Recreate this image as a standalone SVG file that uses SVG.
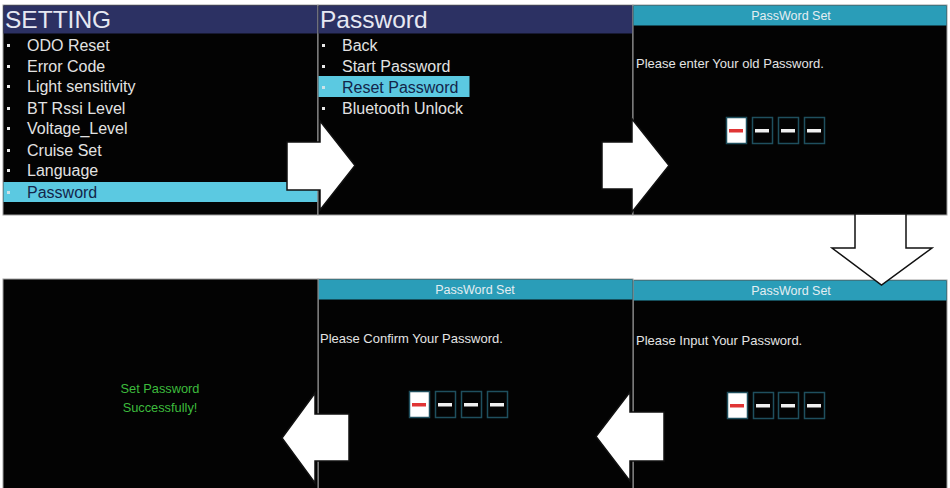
<svg xmlns="http://www.w3.org/2000/svg" width="950" height="488" viewBox="0 0 950 488">
<style>
.scr{fill:#030303;stroke:#a0a0a0;stroke-width:1}
.nav{fill:#2c3163}
.teal{fill:#2a9db8}
.hl{fill:#5bc9e1}
.big{font-family:"Liberation Sans",Arial,sans-serif;font-size:24.5px;fill:#e6e8f2}
.item{font-family:"Liberation Sans",Arial,sans-serif;font-size:16px;fill:#e2e2e2}
.sel{fill:#13254a}
.bul{fill:#e8e8e8}
.hdr{font-family:"Liberation Sans",Arial,sans-serif;font-size:12.5px;fill:#e4eef2;text-anchor:middle}
.msg{font-family:"Liberation Sans",Arial,sans-serif;font-size:13px;fill:#e4e4e4}
.ok{font-family:"Liberation Sans",Arial,sans-serif;font-size:12.8px;fill:#3dbb3d;text-anchor:middle}
.box{fill:#030303;stroke:#1f4f5e;stroke-width:1.5}
.box1{fill:#ffffff;stroke:#1f4f5e;stroke-width:1.5}
.dash{fill:#f0f0f0}
.rdash{fill:#e03535}
.arrow{fill:#ffffff;stroke:#111111;stroke-width:1.5;stroke-linejoin:miter}
</style>
<rect width="950" height="488" fill="#ffffff"/>

<g id="setting">
<rect class="scr" x="3" y="5" width="315" height="210"/>
<rect class="nav" x="3.5" y="5.5" width="314" height="28"/>
<text class="big" x="5" y="28">SETTING</text>
<rect class="hl" x="3.5" y="182" width="314" height="20"/>
<rect class="bul" x="7" y="44" width="3" height="3"/>
<rect class="bul" x="7" y="65" width="3" height="3"/>
<rect class="bul" x="7" y="85" width="3" height="3"/>
<rect class="bul" x="7" y="107" width="3" height="3"/>
<rect class="bul" x="7" y="127" width="3" height="3"/>
<rect class="bul" x="7" y="149" width="3" height="3"/>
<rect class="bul" x="7" y="169" width="3" height="3"/>
<rect class="bul" x="7" y="191" width="3" height="3" fill-opacity="0.8"/>
<text class="item" x="27" y="51">ODO Reset</text>
<text class="item" x="27" y="72">Error Code</text>
<text class="item" x="27" y="92">Light sensitivity</text>
<text class="item" x="27" y="114">BT Rssi Level</text>
<text class="item" x="27" y="134">Voltage_Level</text>
<text class="item" x="27" y="156">Cruise Set</text>
<text class="item" x="27" y="176">Language</text>
<text class="item sel" x="27" y="198">Password</text>
</g>

<g id="password-menu">
<rect class="scr" x="318" y="5" width="315" height="210"/>
<rect class="nav" x="318.5" y="5.5" width="314" height="28"/>
<text class="big" x="320" y="28">Password</text>
<rect class="hl" x="318.5" y="76" width="151" height="21"/>
<rect class="bul" x="322" y="44" width="3" height="3"/>
<rect class="bul" x="322" y="65" width="3" height="3"/>
<rect class="bul" x="322" y="86" width="3" height="3" fill-opacity="0.8"/>
<rect class="bul" x="322" y="107" width="3" height="3"/>
<text class="item" x="342" y="51">Back</text>
<text class="item" x="342" y="72">Start Password</text>
<text class="item sel" x="342" y="93">Reset Password</text>
<text class="item" x="342" y="114">Bluetooth Unlock</text>
</g>

<g id="old-password">
<rect class="scr" x="633" y="5" width="314" height="210"/>
<rect class="teal" x="633.5" y="5.5" width="313" height="20"/>
<text class="hdr" x="791" y="20">PassWord Set</text>
<text class="msg" x="636" y="68">Please enter Your old Password.</text>
<rect class="box1" x="726.5" y="117.5" width="20" height="26"/>
<rect class="rdash" x="729" y="129" width="14" height="3.5"/>
<rect class="box" x="752.5" y="117.5" width="20" height="26"/>
<rect class="dash" x="755" y="129" width="14" height="3.5"/>
<rect class="box" x="778.5" y="117.5" width="20" height="26"/>
<rect class="dash" x="781" y="129" width="14" height="3.5"/>
<rect class="box" x="804.5" y="117.5" width="20" height="26"/>
<rect class="dash" x="807" y="129" width="14" height="3.5"/>
</g>

<g id="input-password">
<rect class="scr" x="633" y="280" width="314" height="210"/>
<rect class="teal" x="633.5" y="280.5" width="313" height="20"/>
<text class="hdr" x="791" y="295">PassWord Set</text>
<text class="msg" x="636" y="345">Please Input Your Password.</text>
<rect class="box1" x="727.5" y="392.5" width="20" height="26"/>
<rect class="rdash" x="730" y="404" width="14" height="3.5"/>
<rect class="box" x="753.5" y="392.5" width="20" height="26"/>
<rect class="dash" x="756" y="404" width="14" height="3.5"/>
<rect class="box" x="778.5" y="392.5" width="20" height="26"/>
<rect class="dash" x="781" y="404" width="14" height="3.5"/>
<rect class="box" x="804.5" y="392.5" width="20" height="26"/>
<rect class="dash" x="807" y="404" width="14" height="3.5"/>
</g>

<g id="confirm-password">
<rect class="scr" x="318" y="279" width="315" height="211"/>
<rect class="teal" x="318.5" y="279.5" width="314" height="20"/>
<text class="hdr" x="475" y="294">PassWord Set</text>
<text class="msg" x="320" y="343">Please Confirm Your Password.</text>
<rect class="box1" x="409.5" y="391.5" width="20" height="26"/>
<rect class="rdash" x="412" y="403" width="14" height="3.5"/>
<rect class="box" x="435.5" y="391.5" width="20" height="26"/>
<rect class="dash" x="438" y="403" width="14" height="3.5"/>
<rect class="box" x="461.5" y="391.5" width="20" height="26"/>
<rect class="dash" x="464" y="403" width="14" height="3.5"/>
<rect class="box" x="487.5" y="391.5" width="20" height="26"/>
<rect class="dash" x="490" y="403" width="14" height="3.5"/>
</g>

<g id="success">
<rect class="scr" x="3" y="279" width="315" height="211"/>
<text class="ok" x="160" y="393">Set Password</text>
<text class="ok" x="160" y="412">Successfully!</text>
</g>

<g id="connectors">
<polygon class="arrow" points="287,142 320,142 320,121 355,165.5 320,210 320,190 287,190"/>
<polygon class="arrow" points="602,142 632,142 632,119 669,165.5 632,212 632,189 602,189"/>
<polygon class="arrow" points="855,214 906,214 906,248 932,248 881.5,285 832,248 855,248"/>
<polygon class="arrow" points="664,412 630,412 630,392 596,436.5 630,481 630,461 664,461"/>
<polygon class="arrow" points="349,414 315,414 315,393 282,438 315,483 315,461 349,461"/>
</g>
</svg>
